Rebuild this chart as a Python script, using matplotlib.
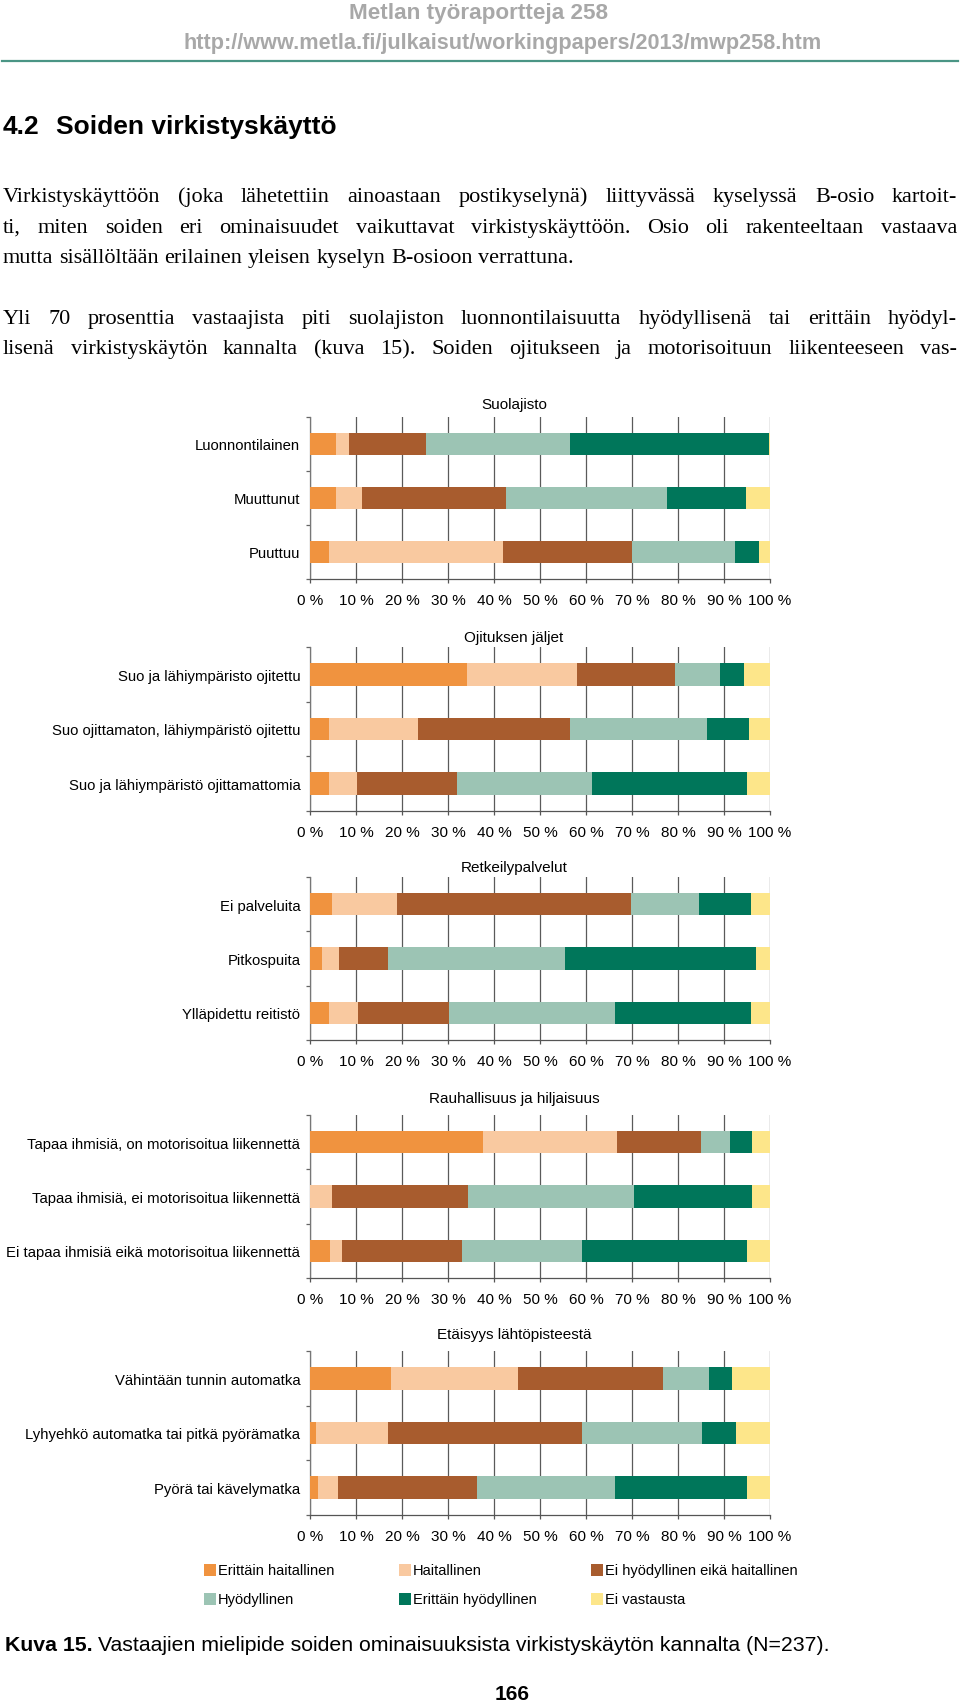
import matplotlib
matplotlib.use("Agg")
import matplotlib.pyplot as plt
from matplotlib.patches import Rectangle
from matplotlib.lines import Line2D

W, H = 960, 1706
DPI = 100

# ---------------- data ----------------
series = ["Erittäin haitallinen", "Haitallinen", "Ei hyödyllinen eikä haitallinen",
          "Hyödyllinen", "Erittäin hyödyllinen", "Ei vastausta"]
colors = ["#F0933F", "#F9C9A0", "#A85C2E", "#9CC4B4", "#00765A", "#FDE68A"]

titles = ["Suolajisto", "Ojituksen jäljet", "Retkeilypalvelut",
          "Rauhallisuus ja hiljaisuus", "Etäisyys lähtöpisteestä"]

cats_suolajisto = ["Luonnontilainen", "Muuttunut", "Puuttuu"]
cats_ojitus = ["Suo ja lähiympäristo ojitettu",
               "Suo ojittamaton, lähiympäristö ojitettu",
               "Suo ja lähiympäristö ojittamattomia"]
cats_retkeily = ["Ei palveluita", "Pitkospuita", "Ylläpidettu reitistö"]
cats_rauha = ["Tapaa ihmisiä, on motorisoitua liikennettä",
              "Tapaa ihmisiä, ei motorisoitua liikennettä",
              "Ei tapaa ihmisiä eikä motorisoitua liikennettä"]
cats_etaisyys = ["Vähintään tunnin automatka",
                 "Lyhyehkö automatka tai pitkä pyörämatka",
                 "Pyörä tai kävelymatka"]

vals_suolajisto = [[5.6, 2.8, 16.8, 31.4, 43.1, 0.3],
                   [5.6, 5.7, 31.3, 35.1, 17.0, 5.3],
                   [4.2, 37.8, 27.9, 22.5, 5.2, 2.4]]
vals_ojitus = [[34.2, 23.9, 21.2, 9.8, 5.2, 5.7],
               [4.2, 19.2, 33.2, 29.6, 9.3, 4.5],
               [4.2, 6.0, 21.7, 29.3, 33.8, 5.0]]
vals_retkeily = [[4.8, 14.2, 50.7, 14.9, 11.2, 4.2],
                 [2.7, 3.5, 10.8, 38.4, 41.5, 3.1],
                 [4.2, 6.2, 19.9, 36.1, 29.4, 4.2]]
vals_rauha = [[37.6, 29.2, 18.3, 6.3, 4.6, 4.0],
              [0.0, 4.7, 29.7, 36.0, 25.6, 4.0],
              [4.4, 2.5, 26.1, 26.1, 35.9, 5.0]]
vals_etaisyys = [[17.5, 27.8, 31.5, 10.0, 4.9, 8.3],
                 [1.2, 15.8, 42.2, 26.1, 7.2, 7.5],
                 [1.7, 4.4, 30.3, 30.0, 28.6, 5.0]]

xticks = list(range(0, 101, 10))
xticklabels = [f"{v} %" for v in xticks]

panels = [(titles[0], cats_suolajisto, vals_suolajisto),
          (titles[1], cats_ojitus, vals_ojitus),
          (titles[2], cats_retkeily, vals_retkeily),
          (titles[3], cats_rauha, vals_rauha),
          (titles[4], cats_etaisyys, vals_etaisyys)]

# layout (pixels): axes top, axes bottom, title centre
ax_left, ax_right = 310, 770
ax_tops = [418, 648, 878, 1116, 1352]
ax_bots = [580, 812, 1041, 1279, 1516]
title_y = [405, 638, 868, 1099, 1335]
title_x = 514

SANS = "Liberation Sans"
SERIF = "Liberation Serif"

fig = plt.figure(figsize=(W / DPI, H / DPI), dpi=DPI)
fig.patch.set_facecolor("white")
renderer = fig.canvas.get_renderer()


def fx(px):
    return px / W


def fy(py):
    return 1 - py / H


# ---------------- header ----------------
fig.text(fx(479), fy(13), "Metlan työraportteja 258", ha="center", va="center",
         fontsize=16.2, fontweight="bold", color="#A8A8A8", family=SANS)
fig.text(fx(503), fy(44), "http://www.metla.fi/julkaisut/workingpapers/2013/mwp258.htm",
         ha="center", va="center", fontsize=15.6, fontweight="bold", color="#A8A8A8",
         family=SANS)
fig.add_artist(Line2D([fx(2), fx(958)], [fy(62), fy(62)], color="#4A9585", lw=1.6))

fig.text(fx(3), fy(134), "4.2", ha="left", va="baseline", fontsize=19,
         fontweight="bold", color="black", family=SANS)
fig.text(fx(56), fy(134), "Soiden virkistyskäyttö", ha="left", va="baseline",
         fontsize=19, fontweight="bold", color="black", family=SANS)

# ---------------- body text (justified) ----------------
body_lines = [
    ("Virkistyskäyttöön (joka lähetettiin ainoastaan postikyselynä) liittyvässä kyselyssä B-osio kartoit-", 202, True),
    ("ti, miten soiden eri ominaisuudet vaikuttavat virkistyskäyttöön. Osio oli rakenteeltaan vastaava", 233, True),
    ("mutta sisällöltään erilainen yleisen kyselyn B-osioon verrattuna.", 263, False),
    ("Yli 70 prosenttia vastaajista piti suolajiston luonnontilaisuutta hyödyllisenä tai erittäin hyödyl-", 324, True),
    ("lisenä virkistyskäytön kannalta (kuva 15). Soiden ojitukseen ja motorisoituun liikenteeseen vas-", 354, True),
]
BODY_FS = 16


def place_line(text, y_base, justify, x0=3, x1=957):
    words = text.split(" ")
    arts = [fig.text(0, fy(y_base), w, ha="left", va="baseline", fontsize=BODY_FS,
                     family=SERIF, color="black") for w in words]
    widths = [a.get_window_extent(renderer=renderer).width for a in arts]
    if justify and len(words) > 1:
        gap = (x1 - x0 - sum(widths)) / (len(words) - 1)
    else:
        probe = fig.text(0, 0, "a a", fontsize=BODY_FS, family=SERIF)
        probe2 = fig.text(0, 0, "aa", fontsize=BODY_FS, family=SERIF)
        gap = (probe.get_window_extent(renderer=renderer).width -
               probe2.get_window_extent(renderer=renderer).width)
        probe.remove()
        probe2.remove()
    x = x0
    for a, w in zip(arts, widths):
        a.set_x(fx(x))
        x += w + gap


for txt, yb, just in body_lines:
    place_line(txt, yb, just)

# ---------------- charts ----------------
LAB_FS = 10.7
for (title, cats, vals), top, bot, ty in zip(panels, ax_tops, ax_bots, title_y):
    ax = fig.add_axes([fx(ax_left), fy(bot), (ax_right - ax_left) / W, (bot - top) / H])
    ypos = list(range(len(cats)))
    lefts = [0.0] * len(cats)
    for k, col in enumerate(colors):
        widths = [row[k] for row in vals]
        ax.barh(ypos, widths, left=lefts, height=0.41, color=col, zorder=3,
                linewidth=0)
        lefts = [l + w for l, w in zip(lefts, widths)]
    ax.set_xlim(0, 100)
    ax.set_ylim(len(cats) - 0.5, -0.5)
    ax.set_xticks(xticks)
    ax.set_xticklabels(xticklabels, family=SANS, fontsize=11)
    ax.set_yticks(ypos)
    ax.set_yticklabels(cats, family=SANS, fontsize=LAB_FS)
    ax.set_yticks([-0.5 + i for i in range(len(cats) + 1)], minor=True)
    ax.tick_params(axis="y", which="major", length=0, pad=7)
    ax.tick_params(axis="y", which="minor", length=3, width=0.9, color="#666666",
                   direction="out")
    ax.tick_params(axis="x", which="major", length=3, width=0.9, color="#555555",
                   direction="out", pad=7)
    ax.xaxis.grid(True, color="#5A5A5A", lw=0.9, zorder=0)
    ax.set_axisbelow(True)
    for s in ("top", "right"):
        ax.spines[s].set_visible(False)
    ax.spines["left"].set_color("#777777")
    ax.spines["left"].set_linewidth(0.9)
    ax.spines["bottom"].set_color("#555555")
    ax.spines["bottom"].set_linewidth(0.9)
    ax.set_facecolor("none")
    fig.text(fx(title_x), fy(ty), title, ha="center", va="center", fontsize=11,
             family=SANS, color="black")

# ---------------- legend ----------------
leg_cols = [204, 399, 591]
leg_rows = [1571, 1600]
for i, (lab, col) in enumerate(zip(series, colors)):
    cx = leg_cols[i % 3]
    cy = leg_rows[i // 3]
    fig.add_artist(Rectangle((fx(cx), fy(cy + 6)), 12 / W, 12 / H, facecolor=col,
                             edgecolor="none", transform=fig.transFigure))
    fig.text(fx(cx + 14), fy(cy), lab, ha="left", va="center", fontsize=10.5,
             family=SANS, color="black")

# ---------------- caption ----------------
CAP_FS = 15.3
cap1 = fig.text(fx(5), fy(1651), "Kuva 15.", ha="left", va="baseline", fontsize=CAP_FS,
                fontweight="bold", family=SANS)
w1 = cap1.get_window_extent(renderer=renderer).width
fig.text(fx(5 + w1 + 5), fy(1651),
         "Vastaajien mielipide soiden ominaisuuksista virkistyskäytön kannalta (N=237).",
         ha="left", va="baseline", fontsize=CAP_FS, family=SANS)
fig.text(fx(512), fy(1695), "166", ha="center", va="center", fontsize=15,
         fontweight="bold", family=SANS)

fig.savefig("out.png", dpi=DPI, facecolor="white")
